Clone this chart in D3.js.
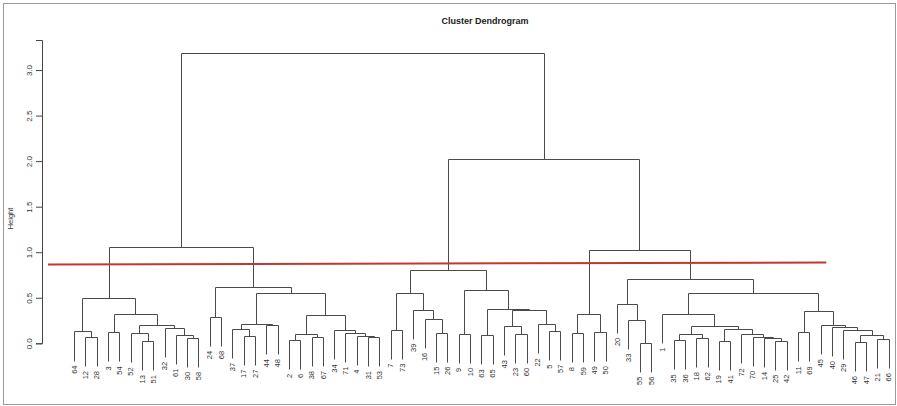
<!DOCTYPE html>
<html>
<head>
<meta charset="utf-8">
<script src="https://cdn.jsdelivr.net/npm/d3@7"></script>
<style>
  html, body { margin: 0; padding: 0; background: #fff; }
  svg { display: block; font-family: "Liberation Sans", Arial, Helvetica, sans-serif; }
</style>
</head>
<body>
<svg id="chart"></svg>
<script>
// Leaf labels, left to right as they appear under the tree.
const leafOrder = [64, 12, 28, 3, 54, 52, 13, 51, 32, 61, 30, 58, 24, 68, 37, 17, 27, 44, 48,
  2, 6, 38, 67, 34, 71, 4, 31, 53, 7, 73, 39, 16, 15, 26, 9, 10, 63, 65, 43, 23, 60, 22, 5, 57,
  8, 59, 49, 50, 20, 33, 55, 56, 1, 35, 36, 18, 62, 19, 41, 72, 70, 14, 25, 42, 11, 69, 45, 40,
  29, 46, 47, 21, 66];

// hclust-style merge table: negative = leaf label, positive = earlier merge (1-based).
const merges = [
  [-12, -28], [-64, 1], [-3, -54], [-13, -51], [-52, 4], [-30, -58], [-61, 6], [-32, 7],
  [5, 8], [3, 9], [2, 10],
  [-24, -68], [-17, -27], [-37, 13], [-44, -48], [14, 15], [-2, -6], [-38, -67], [17, 18],
  [-31, -53], [-4, 20], [-71, 21], [-34, 22], [19, 23], [16, 24], [12, 25], [11, 26],
  [-7, -73], [-15, -26], [-16, 29], [-39, 30], [28, 31], [-9, -10], [-63, -65], [-23, -60],
  [-43, 35], [-5, -57], [-22, 37], [36, 38], [34, 39], [33, 40], [32, 41],
  [-8, -59], [-49, -50], [43, 44], [-55, -56], [-33, 46], [-20, 47], [-35, -36], [-18, -62],
  [49, 50], [-19, -41], [-25, -42], [-14, 53], [-70, 54], [-72, 55], [52, 56], [51, 57],
  [-1, 58], [-11, -69], [-46, -47], [-21, -66], [61, 62], [-29, 63], [-40, 64], [-45, 65],
  [60, 66], [59, 67], [48, 68], [45, 69], [42, 70], [27, 71]
];

// Merge heights, same order as merges.
const heights = [
  0.07, 0.13, 0.12, 0.025, 0.11, 0.06, 0.095, 0.17, 0.205, 0.32, 0.50,
  0.29, 0.085, 0.16, 0.20, 0.215, 0.04, 0.07, 0.105, 0.07, 0.085, 0.117, 0.143, 0.31, 0.557,
  0.615, 1.06,
  0.15, 0.118, 0.27, 0.37, 0.55, 0.105, 0.088, 0.105, 0.19, 0.14, 0.21, 0.363, 0.38, 0.59, 0.81,
  0.114, 0.124, 0.326, 0.008, 0.26, 0.435, 0.033, 0.058, 0.105, 0.025, 0.03, 0.06, 0.072, 0.10,
  0.16, 0.195, 0.326, 0.12, 0.015, 0.047, 0.09, 0.15, 0.18, 0.20, 0.36, 0.557, 0.71, 1.02,
  2.02, 3.19
];

const yTicks = [0, 0.5, 1.0, 1.5, 2.0, 2.5, 3.0];

// Cut line drawn over the tree (ends in leaf-index units, heights).
const cutIndex = [-2.3, 66.5];
const cutHeight = [0.865, 0.887];

const width = 897;
const height = 406;
const hang = 0.1 * d3.max(heights);

const svg = d3.select('#chart')
  .attr('width', width)
  .attr('height', height)
  .attr('viewBox', `0 0 ${width} ${height}`);

// Frame around the whole plot.
svg.append('rect')
  .attr('x', 3.5).attr('y', 3.5)
  .attr('width', width - 5).attr('height', height - 5)
  .attr('fill', 'none')
  .attr('stroke', '#999')
  .attr('stroke-width', 1);

const xIdx = d3.scaleLinear().domain([0, leafOrder.length - 1]).range([74, 888.5]);
const yScale = d3.scaleLinear().domain([0, 3.33]).range([343.3, 40]);

const leafPos = new Map(leafOrder.map((lab, i) => [lab, xIdx(i)]));

// Compute the x of each merge and collect segments.
const mergeX = [];
const segs = [];
merges.forEach(([a, b], i) => {
  const h = heights[i];
  const child = (c) => (c < 0
    ? { x: leafPos.get(-c), h: h - hang }
    : { x: mergeX[c - 1], h: heights[c - 1] });
  const l = child(a);
  const r = child(b);
  mergeX[i] = (l.x + r.x) / 2;
  segs.push([[l.x, l.h], [l.x, h], [r.x, h], [r.x, r.h]]);
});

const line = d3.line()
  .x((d) => Math.round(d[0]) + 0.5)
  .y((d) => Math.round(yScale(d[1])) + 0.5);

svg.append('g')
  .selectAll('path')
  .data(segs)
  .join('path')
  .attr('d', line)
  .attr('fill', 'none')
  .attr('stroke', '#4a4a4a')
  .attr('stroke-width', 1);

// Leaf labels, hanging below each leaf.
const leafEnd = new Map();
merges.forEach(([a, b], i) => {
  [a, b].forEach((c) => { if (c < 0) leafEnd.set(-c, heights[i] - hang); });
});

svg.append('g')
  .selectAll('text')
  .data(leafOrder)
  .join('text')
  .attr('transform', (d) => `translate(${leafPos.get(d)},${yScale(leafEnd.get(d)) + 5}) rotate(-90)`)
  .attr('text-anchor', 'end')
  .attr('dy', '0.35em')
  .attr('font-size', 7.5)
  .attr('fill', '#333')
  .text((d) => d);

// Y axis.
const yAxis = d3.axisLeft(yScale)
  .tickValues(yTicks)
  .tickFormat(d3.format('.1f'))
  .tickSizeOuter(0)
  .tickSize(6);

const gy = svg.append('g')
  .attr('transform', 'translate(42,0)')
  .call(yAxis);
gy.select('.domain').attr('stroke', '#444');
gy.selectAll('.tick line').attr('stroke', '#444');
gy.selectAll('.tick text')
  .attr('font-size', 8)
  .attr('font-family', null)
  .attr('fill', '#333')
  .attr('transform', 'rotate(-90)')
  .attr('text-anchor', 'middle')
  .attr('x', 0)
  .attr('y', -10)
  .attr('dy', 0);

svg.append('text')
  .attr('transform', `translate(10,${yScale(1.37)}) rotate(-90)`)
  .attr('text-anchor', 'middle')
  .attr('dy', '0.35em')
  .attr('font-size', 7.5)
  .attr('fill', '#333')
  .text('Height');

// Title.
svg.append('text')
  .attr('x', 485)
  .attr('y', 24)
  .attr('text-anchor', 'middle')
  .attr('font-size', 9)
  .attr('font-weight', 'bold')
  .attr('fill', '#222')
  .text('Cluster Dendrogram');

// Red cut line.
svg.append('path')
  .datum(cutIndex.map((c, i) => [xIdx(c), cutHeight[i]]))
  .attr('d', d3.line().x((d) => d[0]).y((d) => yScale(d[1])))
  .attr('stroke', '#c0392f')
  .attr('stroke-width', 2)
  .attr('fill', 'none');
</script>
</body>
</html>
